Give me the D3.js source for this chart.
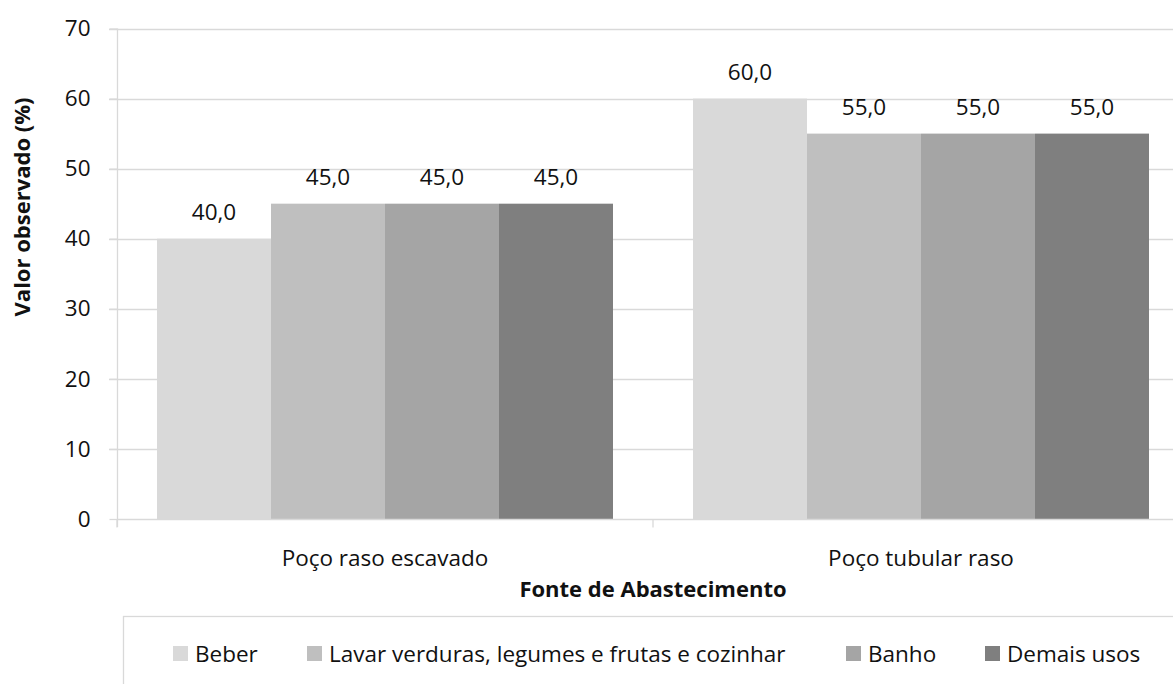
<!DOCTYPE html>
<html><head><meta charset="utf-8">
<script src="https://cdn.jsdelivr.net/npm/d3@7/dist/d3.min.js"></script>
<style>body{margin:0;background:#fff}svg{display:block}text{font-family:"Open Sans",sans-serif;fill:#111}</style>
</head><body><svg id="c" width="1173" height="684"></svg>
<script>
const categories = ["Poço raso escavado", "Poço tubular raso"];
const seriesNames = ["Beber", "Lavar verduras, legumes e frutas e cozinhar", "Banho", "Demais usos"];
const beber = [40.0, 60.0];
const lavar = [45.0, 55.0];
const banho = [45.0, 55.0];
const demais = [45.0, 55.0];
const yTicks = [0, 10, 20, 30, 40, 50, 60, 70];
const colors = ["#d9d9d9", "#bfbfbf", "#a5a5a5", "#7f7f7f"];
const seriesValues = [beber, lavar, banho, demais];

const svg = d3.select("#c");
const L = 117, R = 1189, T = 28.5, B = 519;
const FS = 22.5;
const y = d3.scaleLinear().domain([0, 70]).range([B, T]);
const x0 = d3.scaleBand().domain(categories).range([L, R]).paddingInner(0).paddingOuter(0);
const x1 = d3.scaleBand().domain(d3.range(seriesNames.length)).range([0, x0.bandwidth()]).paddingOuter(40/114).paddingInner(0);

// gridlines
svg.append("g").selectAll("line").data(yTicks.filter(d => d > 0)).join("line")
  .attr("x1", L - 8).attr("x2", R).attr("y1", d => Math.round(y(d)) + 0.5).attr("y2", d => Math.round(y(d)) + 0.5)
  .attr("stroke", "#d9d9d9").attr("stroke-width", 1.3);

// bars
const groups = svg.append("g").selectAll("g").data(categories).join("g")
  .attr("transform", d => `translate(${x0(d)},0)`);
groups.each(function(cat, ci) {
  const g = d3.select(this);
  seriesValues.forEach((vals, si) => {
    g.append("rect").attr("x", x1(si)).attr("width", x1.bandwidth())
      .attr("y", y(vals[ci])).attr("height", B - y(vals[ci])).attr("fill", colors[si]);
    g.append("text").attr("x", x1(si) + x1.bandwidth() / 2).attr("y", y(vals[ci]) - 19)
      .attr("text-anchor", "middle").attr("font-size", FS)
      .text(d3.format(".1f")(vals[ci]).replace(".", ","));
  });
});

// y axis
const yAxis = d3.axisLeft(y).tickValues(yTicks).tickSize(8).tickPadding(19).tickFormat(d3.format("d"));
const ya = svg.append("g").attr("transform", `translate(${L + 0.5},0)`).call(yAxis);
ya.select(".domain").attr("stroke", "#d9d9d9").attr("stroke-width", 1.3).attr("d", `M0,${T}V${B + 8}`);
ya.selectAll(".tick line").attr("stroke", "#d9d9d9").attr("stroke-width", 1.3);
ya.selectAll(".tick text").attr("font-size", FS).attr("font-family", "Open Sans").attr("fill", "#111");

// x axis
const xa = svg.append("g").attr("transform", `translate(0,${B + 0.5})`);
xa.append("line").attr("x1", L).attr("x2", R).attr("stroke", "#d9d9d9").attr("stroke-width", 1.3);
xa.selectAll(".sep").data([L, ...categories.map(c => x0(c) + x0.bandwidth())]).join("line")
  .attr("x1", d => d).attr("x2", d => d).attr("y1", 0).attr("y2", 8).attr("stroke", "#d9d9d9").attr("stroke-width", 1.3);
xa.selectAll(".lab").data(categories).join("text")
  .attr("x", d => x0(d) + x0.bandwidth() / 2).attr("y", 46).attr("text-anchor", "middle").attr("font-size", FS)
  .text(d => d);

// axis titles
svg.append("text").attr("x", 653).attr("y", 597).attr("text-anchor", "middle").attr("font-size", 22).attr("font-weight", "bold")
  .text("Fonte de Abastecimento");
svg.append("text").attr("transform", `translate(30,207) rotate(-90)`).attr("text-anchor", "middle")
  .attr("font-size", 22).attr("font-weight", "bold").text("Valor observado (%)");

// legend
svg.append("rect").attr("x", 123.5).attr("y", 616.5).attr("width", 1100).attr("height", 120)
  .attr("fill", "none").attr("stroke", "#d9d9d9").attr("stroke-width", 1.3);
const legX = [173, 307, 846, 985];
const lg = svg.append("g").selectAll("g").data(seriesNames).join("g")
  .attr("transform", (d, i) => `translate(${legX[i]},646)`);
lg.append("rect").attr("width", 15).attr("height", 15).attr("fill", (d, i) => colors[i]);
lg.append("text").attr("x", 22).attr("y", 15.5).attr("font-size", FS).text(d => d);
</script></body></html>
